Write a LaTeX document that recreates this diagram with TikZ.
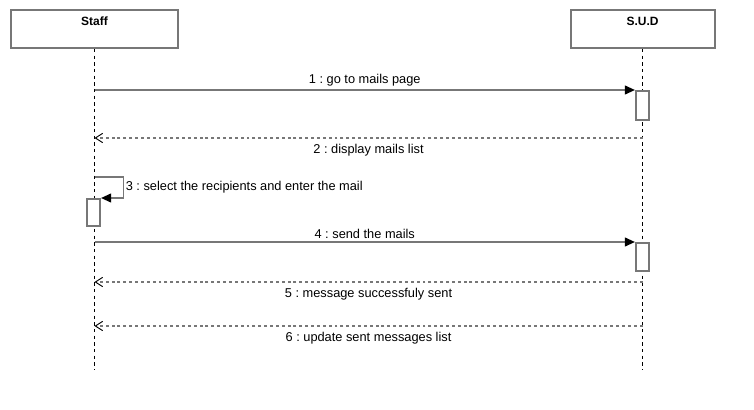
\documentclass[tikz,border=0pt]{standalone}
\usepackage{fontspec}
\setmainfont{Liberation Sans}
\usetikzlibrary{arrows.meta,positioning}
\frenchspacing

\definecolor{linegray}{HTML}{777777}

\tikzset{
  objbox/.style={draw=linegray, line width=1.5pt, fill=white,
    minimum width=125pt, minimum height=28.5pt, inner sep=0pt},
  objname/.style={font=\fontsize{9}{11}\selectfont\bfseries, inner sep=0pt},
  lifeline/.style={black, line width=0.7pt, dash pattern=on 2.5pt off 2.5pt},
  actbox/.style={draw=linegray, line width=1.3pt, fill=white,
    minimum width=10pt, inner sep=0pt, anchor=north},
  callmsg/.style={linegray, line width=1.4pt,
    -{Triangle[length=7.5pt, width=6.5pt, black]}},
  replymsg/.style={linegray, line width=1.3pt, dash pattern=on 2.2pt off 2.2pt,
    -{Straight Barb[length=5.5pt, width=7pt, black, line width=0.7pt]}},
  msglabel/.style={text=black, font=\fontsize{9.6}{11}\selectfont, inner sep=1.5pt}
}

\begin{document}
\begin{tikzpicture}[x=0.75pt, y=-0.75pt]
        \useasboundingbox (0,0) rectangle (754,410);

        % Objects
        \node[objbox] (staff) at (94.5,29) {};
        \node[objname] (staff_name) at ([yshift=-9pt]staff.north) {Staff};
        \node[objbox, minimum width=108pt] (sud) at (642.5,29) {};
        \node[objname] (sud_name) at ([yshift=-9pt]sud.north) {S.U.D};

        % Ends of lifelines
        \coordinate (staff_end) at (94.5,370);
        \coordinate (sud_end) at (642.5,370);

        % Lifelines
        \draw[lifeline] (staff.south) -- (staff_end);
        \draw[lifeline] (sud.south) -- (sud_end);

        % Activations
        \node[actbox, minimum height=21.75pt] (act_one) at (642.5,90) {};
        \node[actbox, minimum height=20.25pt] (act_three) at (93.5,198) {};
        \node[actbox, minimum height=21pt] (act_four) at (642.5,242) {};

        % Points on the lifelines
        \coordinate (m_one) at (94.5,90);
        \coordinate (m_two_from) at (642.5,138);
        \coordinate (m_two_to) at (94.5,138);
        \coordinate (m_three) at (94.5,177);
        \coordinate (m_four) at (94.5,242);
        \coordinate (m_five_from) at (642.5,282);
        \coordinate (m_five_to) at (94.5,282);
        \coordinate (m_six_from) at (642.5,326);
        \coordinate (m_six_to) at (94.5,326);

        % Messages
        \draw[callmsg] (m_one) -- node[msglabel, above=0.5pt] {1 : go to mails page} (act_one.north west);
        \draw[replymsg] (m_two_from) -- node[msglabel, below=2.5pt] {2 : display mails list} (m_two_to);
        \draw[callmsg] (m_three) -- ++(29,0) coordinate (m_three_turn) |- (act_three.north east);
        \node[msglabel, anchor=west] (m_three_label) at ([yshift=-7.5pt]m_three_turn) {3 : select the recipients and enter the mail};
        \draw[callmsg] (m_four) -- node[msglabel, above=0.5pt] {4 : send the mails} (act_four.north west);
        \draw[replymsg] (m_five_from) -- node[msglabel, below=2.5pt] {5 : message successfuly sent} (m_five_to);
        \draw[replymsg] (m_six_from) -- node[msglabel, below=2.5pt] {6 : update sent messages list} (m_six_to);
      \end{tikzpicture}
\end{document}
